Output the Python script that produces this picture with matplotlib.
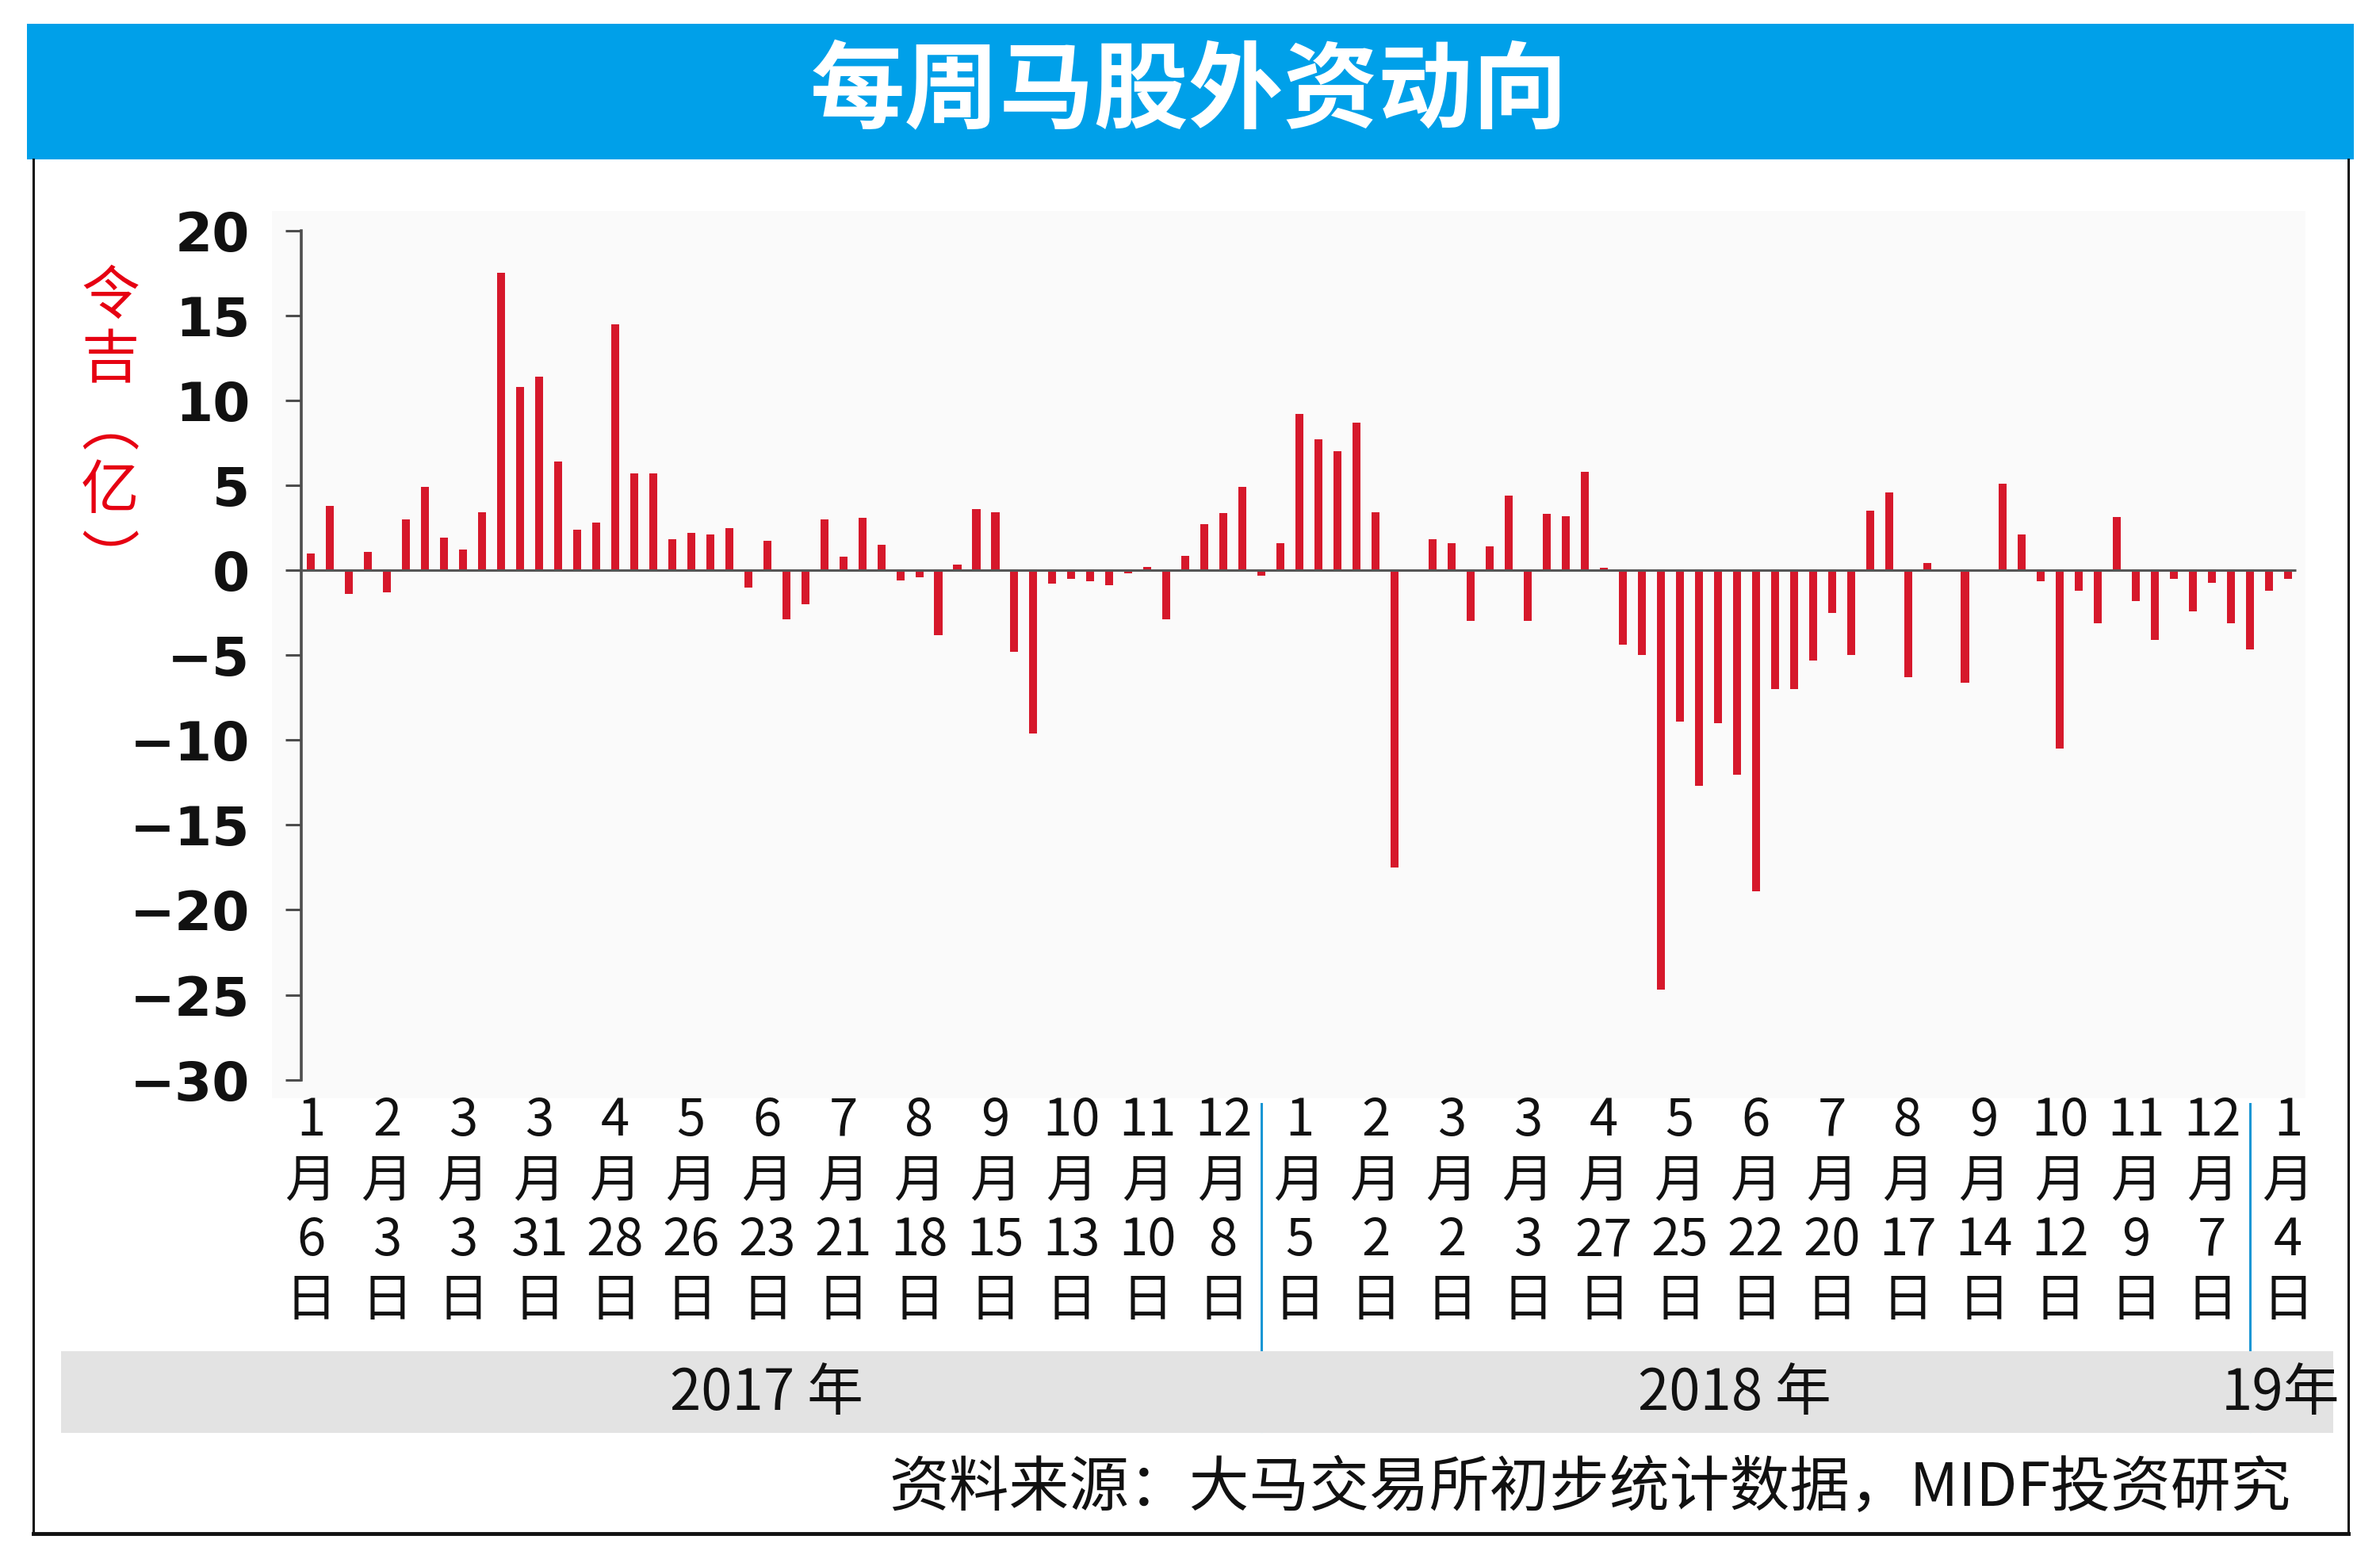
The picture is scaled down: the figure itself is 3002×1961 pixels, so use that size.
import matplotlib
matplotlib.use('Agg')
import matplotlib.pyplot as plt
import matplotlib.transforms as mtransforms
from matplotlib.patches import Rectangle
from matplotlib.lines import Line2D

# ---------------- data ----------------
values = [
    1.0, 3.8, -1.4, 1.1, -1.3, 3.0, 4.9, 1.9, 1.2, 3.4,
    17.5, 10.8, 11.4, 6.4, 2.4, 2.8, 14.5, 5.7, 5.7, 1.85,
    2.2, 2.1, 2.5, -1.0, 1.75, -2.9, -2.0, 3.0, 0.8, 3.1,
    1.5, -0.6, -0.4, -3.8, 0.35, 3.6, 3.4, -4.8, -9.6, -0.8,
    -0.5, -0.65, -0.9, -0.2, 0.2, -2.9, 0.85, 2.7, 3.35, 4.9,
    -0.3, 1.6, 9.2, 7.7, 7.0, 8.7, 3.4, -17.5, 0.0, 1.85,
    1.6, -3.0, 1.4, 4.4, -3.0, 3.3, 3.2, 5.8, 0.15, -4.4,
    -5.0, -24.7, -8.9, -12.7, -9.0, -12.05, -18.9, -7.0, -7.0, -5.3,
    -2.5, -5.0, 3.5, 4.6, -6.3, 0.45, 0.0, -6.6, 0.0, 5.1,
    2.1, -0.65, -10.5, -1.2, -3.1, 3.15, -1.8, -4.1, -0.5, -2.4,
    -0.75, -3.1, -4.65, -1.2, -0.5,
]
label_months = ['1', '2', '3', '3', '4', '5', '6', '7', '8', '9', '10', '11', '12',
                '1', '2', '3', '3', '4', '5', '6', '7', '8', '9', '10', '11', '12',
                '1']
label_days = ['6', '3', '3', '31', '28', '26', '23', '21', '18', '15', '13', '10', '8',
              '5', '2', '2', '3', '27', '25', '22', '20', '17', '14', '12', '9', '7',
              '4']
label_step = 4
year_labels = ['2017 年', '2018 年', '19年']
year_dividers = [50, 102]
yticks = [20, 15, 10, 5, 0, -5, -10, -15, -20, -25, -30]
title = '每周马股外资动向'
ylabel_chars = ['令', '吉', '︵', '亿', '︶']
source = '资料来源：大马交易所初步统计数据，MIDF投资研究'

# ---------------- figure ----------------
W, H, DPI = 3002, 1961, 100
fig = plt.figure(figsize=(W / DPI, H / DPI), dpi=DPI)
fig.patch.set_facecolor('white')


def fx(px):
    return px / W


def fy(py):
    return 1 - py / H


CJK = ['Noto Sans CJK SC', 'DejaVu Sans']

# title band
fig.patches.append(Rectangle((fx(34), fy(201)), fx(2969) - fx(34), (201 - 30) / H,
                             transform=fig.transFigure, facecolor='#00a0e9',
                             edgecolor='none', zorder=0))
fig.text(fx(1500), fy(118), title, color='white', fontsize=86, fontweight='bold',
         family=CJK, ha='center', va='center')

# outer frame
for xs, ys, lw in [([42, 42], [201, 1934], 2.2), ([2962, 2962], [201, 1934], 2.2),
                   ([42, 2962], [1934, 1934], 3.5)]:
    fig.add_artist(Line2D([fx(v) for v in xs], [fy(v) for v in ys],
                          transform=fig.transFigure, color='#111111', lw=lw))

# year band
fig.patches.append(Rectangle((fx(77), fy(1807)), fx(2943) - fx(77), (1807 - 1704) / H,
                             transform=fig.transFigure, facecolor='#e3e3e3',
                             edgecolor='none', zorder=0))

# ---------------- axes ----------------
ax = fig.add_axes([fx(343), fy(1385), (2908 - 343) / W, (1385 - 266) / H])
ax.set_facecolor('#fafafa')
x = list(range(len(values)))
ax.bar(x, values, width=0.42, color='#d6182b', zorder=3)

spine_x = -0.51
ax.set_xlim(-2.05, 104.91)
ax.set_ylim(-31.09, 21.16)
for s in ['top', 'right', 'bottom']:
    ax.spines[s].set_visible(False)
ax.spines['left'].set_position(('data', spine_x))
ax.spines['left'].set_bounds(-30, 20)
ax.spines['left'].set_linewidth(2.6)
ax.spines['left'].set_color('#4d4d4d')
ax.plot([spine_x, 104.41], [0, 0], color='#555555', lw=2.2, zorder=4,
        solid_capstyle='butt')

ax.set_yticks(yticks, labels=[str(v).replace('-', '\u2212') for v in yticks],
              fontsize=49, fontweight='bold', family='DejaVu Sans')
ax.tick_params(axis='y', length=14.4, width=2.2, color='#4d4d4d', pad=32,
               labelcolor='#111111')
ax.set_xticks([])

# x labels, stacked vertically
trans = mtransforms.blended_transform_factory(ax.transData, fig.transFigure)
row_y = [1414, 1490, 1565, 1641]
for i, (m, d) in enumerate(zip(label_months, label_days)):
    xp = i * label_step
    for ry, s in zip(row_y, [m, '月', d, '日']):
        ax.text(xp, fy(ry), s, transform=trans, ha='center', va='center',
                fontsize=47, family=CJK, color='#111111', clip_on=False)

# year dividers
for xd in year_dividers:
    ax.add_artist(Line2D([xd, xd], [fy(1392), fy(1805)], transform=trans,
                         color='#1a96d4', lw=2.2, clip_on=False))

# year labels
for xp, s in zip([967, 2188, 2877], year_labels):
    fig.text(fx(xp), fy(1757), s, ha='center', va='center', fontsize=51,
             family=CJK, color='#111111')

# y label (vertical, red)
red = '#e60012'
for yy, s in zip([375, 456, 541, 620, 711], ylabel_chars):
    fig.text(fx(139), fy(yy), s, ha='center', va='center', fontsize=53,
             family=CJK, color=red)

# source
fig.text(fx(2890), fy(1877), source, ha='right', va='center', fontsize=54.5,
         family=CJK, color='#111111')

fig.savefig('out.png', dpi=DPI)
